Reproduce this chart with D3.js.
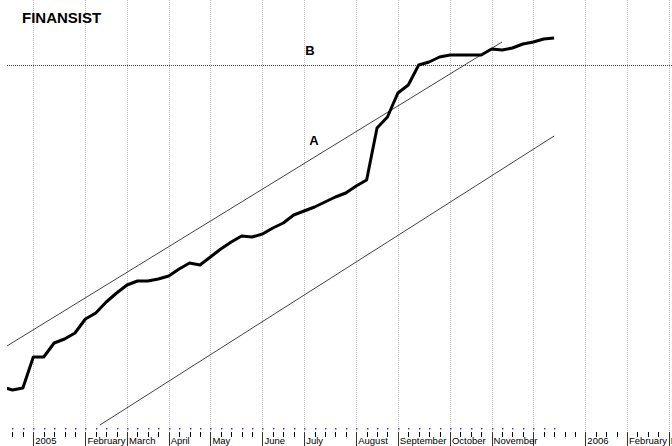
<!DOCTYPE html>
<html>
<head>
<meta charset="utf-8">
<script src="https://cdn.jsdelivr.net/npm/d3@7"></script>
<style>
  body { margin: 0; background: #fff; }
  text { font-family: "Liberation Sans", Arial, sans-serif; }
</style>
</head>
<body>
<script>
// Configuration
const width = 672;
const height = 446;
const plotLeft = 7;
const axisY = 432;

// --- Data ---
// weekly closes, first value sits at week index -3 (week 0 = first week of 2005)
const firstWeek = -3;
const closes = [
    1.43, 1.40, 1.42, 1.73, 1.73, 1.87, 1.91, 1.97, 2.11, 2.17,
    2.28, 2.37, 2.45, 2.49, 2.49, 2.51, 2.54, 2.61, 2.67, 2.65,
    2.73, 2.81, 2.88, 2.94, 2.93, 2.96, 3.02, 3.07, 3.15, 3.19,
    3.23, 3.28, 3.33, 3.37, 3.44, 3.50, 4.02, 4.13, 4.37, 4.45,
    4.65, 4.68, 4.73, 4.75, 4.75, 4.75, 4.75, 4.81, 4.80, 4.82,
    4.86, 4.88, 4.91, 4.92
];

// month boundaries (week index) and their labels
const monthWeeks = [0, 5, 9, 13, 17, 22, 26, 31, 35, 40, 44, 48, 53, 57, 61];
const monthLabels = ["2005", "February", "March", "April", "May", "June", "July",
    "August", "September", "October", "November", "", "2006", "February", "March"];

// week ticks shown on the axis
const tickWeeks = d3.range(-3, 63);

// drawn lines: channel A (upper), lower channel, resistance B
const lineA = [{ w: -2.53, v: 1.84 }, { w: 45.0, v: 4.88 }];
const lineLow = [{ w: 6.4, v: 1.05 }, { w: 50.0, v: 3.94 }];
const levelB = 4.65;
const notes = [{ label: "B", w: 26.55, v: 4.75 }, { label: "A", w: 26.95, v: 3.85 }];

const data = closes.map((v, i) => ({ w: firstWeek + i, v: v }));

// --- Scales ---
const x = d3.scaleLinear().domain([0, 61]).range([33.3, 668.7]);
const y = d3.scaleLinear().domain([1, 5.3]).range([430, 0]);

const svg = d3.select("body")
    .append("svg")
    .attr("width", width)
    .attr("height", height);

svg.append("rect").attr("width", width).attr("height", height).attr("fill", "#fff");

svg.append("clipPath")
    .attr("id", "plot-clip")
    .append("rect")
    .attr("x", plotLeft)
    .attr("y", 0)
    .attr("width", width - plotLeft)
    .attr("height", height);

const g = svg.append("g").attr("clip-path", "url(#plot-clip)");

// Month grid (light dotted above axis, dark below)
g.append("g")
    .selectAll("line")
    .data(monthWeeks)
    .join("line")
    .attr("x1", d => Math.round(x(d)) + 0.5)
    .attr("x2", d => Math.round(x(d)) + 0.5)
    .attr("y1", 0)
    .attr("y2", axisY)
    .attr("stroke", "#bcbcbc")
    .attr("stroke-dasharray", "1,1");

// Resistance level B
g.append("line")
    .attr("x1", plotLeft)
    .attr("x2", width)
    .attr("y1", Math.round(y(levelB)) + 0.5)
    .attr("y2", Math.round(y(levelB)) + 0.5)
    .attr("stroke", "#444")
    .attr("stroke-width", 1.2)
    .attr("stroke-dasharray", "1,1");

// Channel lines
const thin = d3.line().x(d => x(d.w)).y(d => y(d.v));
[lineA, lineLow].forEach(pts => {
    g.append("path")
        .attr("d", thin(pts))
        .attr("fill", "none")
        .attr("stroke", "#111")
        .attr("stroke-width", 0.8);
});

// Price line
g.append("path")
    .datum(data)
    .attr("d", d3.line().x(d => x(d.w)).y(d => y(d.v)))
    .attr("fill", "none")
    .attr("stroke", "#000")
    .attr("stroke-width", 3)
    .attr("stroke-linejoin", "round");

// data point markers along the bottom
g.append("g")
    .selectAll("rect")
    .data(data)
    .join("rect")
    .attr("x", d => Math.round(x(d.w)))
    .attr("y", 428)
    .attr("width", 1.5)
    .attr("height", 1.5)
    .attr("fill", "#3a3aff");

// Axis ticks
g.append("g")
    .selectAll("line")
    .data(tickWeeks)
    .join("line")
    .attr("x1", d => Math.round(x(d)) + 0.5)
    .attr("x2", d => Math.round(x(d)) + 0.5)
    .attr("y1", axisY)
    .attr("y2", d => monthWeeks.includes(d) ? height : axisY + 5)
    .attr("stroke", d => monthWeeks.includes(d) ? "#333" : "#000")
    .attr("stroke-width", 1);

g.append("g")
    .selectAll("text")
    .data(monthWeeks)
    .join("text")
    .attr("x", (d, i) => x(d) + 2)
    .attr("y", 444)
    .attr("font-size", 9.5)
    .attr("fill", "#000")
    .text((d, i) => monthLabels[i]);

// Notes
g.selectAll(".note")
    .data(notes)
    .join("text")
    .attr("class", "note")
    .attr("x", d => x(d.w))
    .attr("y", d => y(d.v))
    .attr("text-anchor", "middle")
    .attr("font-size", 13)
    .attr("font-weight", "bold")
    .text(d => d.label);

svg.append("text")
    .attr("x", 22)
    .attr("y", 23)
    .attr("font-size", 15)
    .attr("font-weight", "bold")
    .text("FINANSIST");
</script>
</body>
</html>
